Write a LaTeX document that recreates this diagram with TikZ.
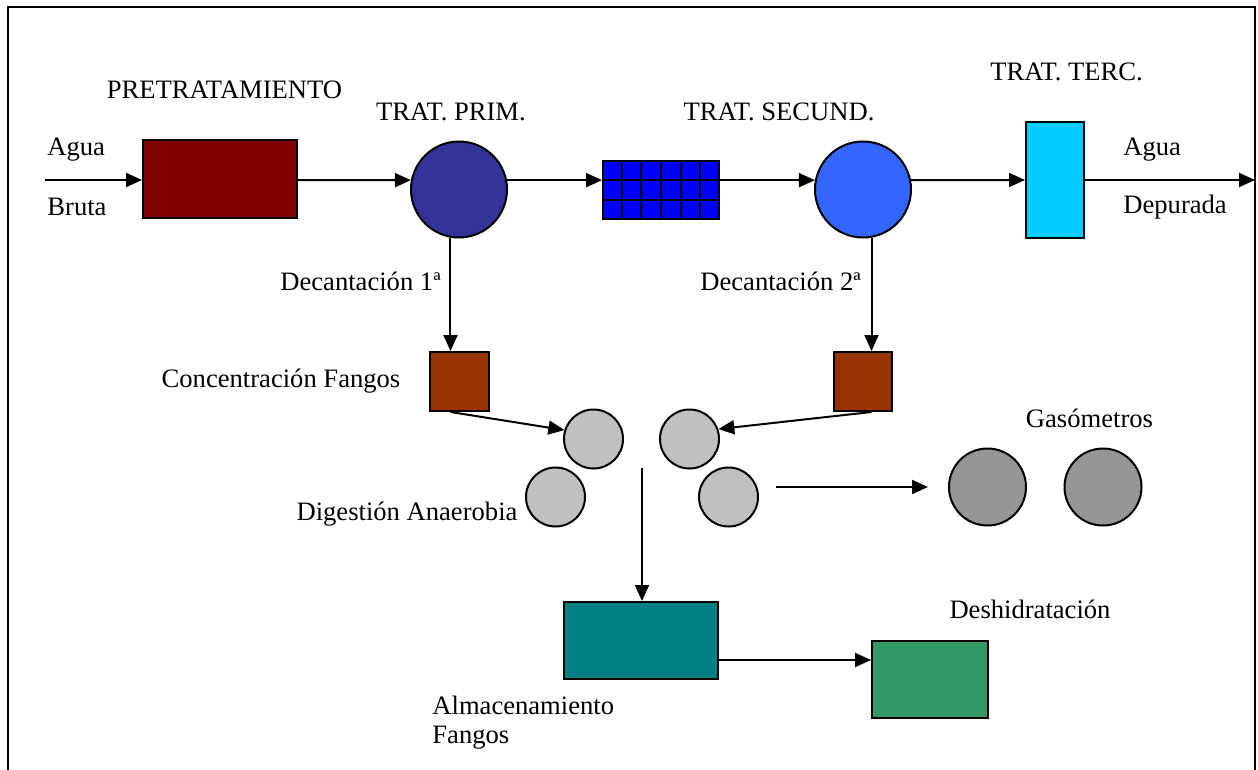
\documentclass[tikz,border=0pt]{standalone}
\usepackage{fontspec}
\setmainfont{Liberation Serif}
\usepackage{tikz}
\usetikzlibrary{arrows.meta,calc}
\definecolor{pretcol}{HTML}{800000}
\definecolor{primcol}{HTML}{333399}
\definecolor{biocol}{HTML}{0000FF}
\definecolor{seccol}{HTML}{3366FF}
\definecolor{terccol}{HTML}{00CCFF}
\definecolor{conccol}{HTML}{993300}
\definecolor{digcol}{HTML}{C0C0C0}
\definecolor{gascol}{HTML}{969696}
\definecolor{almcol}{HTML}{008080}
\definecolor{deshcol}{HTML}{339966}

\begin{document}
\begin{tikzpicture}[x=0.5pt,y=-0.5pt,
  every node/.style={font=\fontsize{13.3}{15}\selectfont},
  unit/.style={draw=black,line width=1pt,inner sep=0pt},
  tank/.style={unit,circle,minimum size=#1},
  box/.style 2 args={unit,rectangle,minimum width=#1,minimum height=#2},
  flow/.style={line width=1pt,-{Triangle[length=8pt,width=7pt]}},
  lbl/.style={inner sep=0pt}]
\useasboundingbox (0,0) rectangle (1258,770);
\draw[line width=1pt] (8,7) rectangle (1255,790);

% linea de agua
\node[box={77pt}{39pt},fill=pretcol] (pre) at (220,179) {};
\node[tank=48pt,fill=primcol] (prim) at (459,189.5) {};
\node[box={58pt}{29pt},fill=biocol] (bio) at (661,190) {};
\foreach \i in {1,...,5}
  \draw[line width=1pt] ($(bio.north west)!\i/6!(bio.north east)$) -- ($(bio.south west)!\i/6!(bio.south east)$);
\foreach \j in {1,2}
  \draw[line width=1pt] ($(bio.north west)!\j/3!(bio.south west)$) -- ($(bio.north east)!\j/3!(bio.south east)$);
\node[tank=48pt,fill=seccol] (sec) at (863,189.5) {};
\node[box={29pt}{58pt},fill=terccol] (terc) at (1055,180) {};

% linea de fangos
\node[box={29.5pt}{29.5pt},fill=conccol] (conc1) at (459.5,381.5) {};
\node[box={29pt}{29.5pt},fill=conccol] (conc2) at (863,381.5) {};
\node[tank=29.5pt,fill=digcol] (digA) at (593.5,439) {};
\node[tank=29.5pt,fill=digcol] (digB) at (689.5,439) {};
\node[tank=29.5pt,fill=digcol] (digC) at (555.5,497) {};
\node[tank=29.5pt,fill=digcol] (digD) at (728.5,497) {};
\node[tank=38.5pt,fill=gascol] (gasA) at (987.5,487) {};
\node[tank=38.5pt,fill=gascol] (gasB) at (1103,487) {};
\node[box={77pt}{38.5pt},fill=almcol] (alm) at (641,640.5) {};
\node[box={58pt}{38.5pt},fill=deshcol] (desh) at (930,679.5) {};

% textos
\node[lbl] (pretx) at (224.5,90) {PRETRATAMIENTO};
\node[lbl] (primtx) at (451,112) {TRAT. PRIM.};
\node[lbl] (sectx) at (779,112) {TRAT. SECUND.};
\node[lbl] (tercx) at (1066.5,72) {TRAT. TERC.};
\node[lbl,anchor=west] (agua1) at (47,150) {Agua};
\node[lbl,anchor=west] (bruta) at (47,207) {Bruta};
\node[lbl,anchor=west] (agua2) at (1123,150) {Agua};
\node[lbl,anchor=west] (depur) at (1123,207) {Depurada};
\node[lbl] (dec1) at (360.5,281) {Decantación 1ª};
\node[lbl] (dec2) at (780.5,281) {Decantación 2ª};
\node[lbl] (conctx) at (281,381) {Concentración Fangos};
\node[lbl] (digtx) at (407,514) {Digestión Anaerobia};
\node[lbl] (gastx) at (1089.5,418) {Gasómetros};
\node[lbl] (deshtx) at (1030,609) {Deshidratación};
\node[lbl,anchor=west] (almtx1) at (432,705) {Almacenamiento};
\node[lbl,anchor=west] (almtx2) at (432,738) {Fangos};

% conexiones
\coordinate (in) at (45,180);
\coordinate (out) at (1255,180);
\coordinate (mix) at (642,468);
\coordinate (biogas) at (776,487);
\draw[flow] (in) -- (in -| pre.west);
\draw[flow] (in -| pre.east) -- (prim.169);
\draw[flow] (prim.11) -- (prim.11 -| bio.west);
\draw[flow] (prim.11 -| bio.east) -- (sec.169);
\draw[flow] (sec.11) -- (terc.west);
\draw[flow] (terc.east) -- (out);
\draw[flow] (prim.260) -- (prim.260 |- conc1.north);
\draw[flow] (sec.280) -- (sec.280 |- conc2.north);
\draw[flow] (prim.260 |- conc1.south) -- (digA.163);
\draw[flow] (sec.280 |- conc2.south) -- (digB.19);
\draw[flow] (mix) -- (mix |- alm.north);
\draw[flow] (biogas) -- ([xshift=-10pt]gasA.west);
\draw[flow] ([yshift=-9.75pt]alm.east) -- ([yshift=-9.75pt]alm.east -| desh.west);
\end{tikzpicture}
\end{document}
